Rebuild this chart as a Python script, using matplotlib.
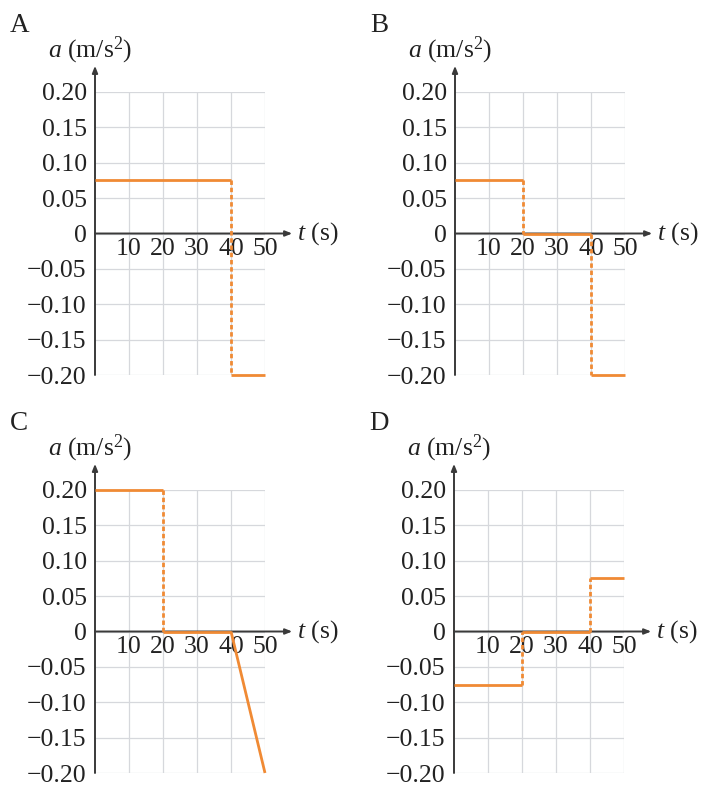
import matplotlib
matplotlib.use("Agg")
import matplotlib.pyplot as plt

plt.rcParams['font.family'] = ['Liberation Serif', 'DejaVu Serif']
plt.rcParams['mathtext.fontset'] = 'custom'
plt.rcParams['mathtext.rm'] = 'Liberation Serif'
plt.rcParams['mathtext.it'] = 'Liberation Serif:italic'

W, H = 708, 787

panel_names = ["A", "B", "C", "D"]

# each panel: list of pieces, each piece is ([t0, t1], [a0, a1])
A_t = [[0, 40], [40, 50]]
A_a = [[0.075, 0.075], [-0.2, -0.2]]
B_t = [[0, 20], [20, 40], [40, 50]]
B_a = [[0.075, 0.075], [0, 0], [-0.2, -0.2]]
C_t = [[0, 20], [20, 40], [40, 50]]
C_a = [[0.2, 0.2], [0, 0], [0, -0.2]]
D_t = [[0, 20], [20, 40], [40, 50]]
D_a = [[-0.075, -0.075], [0, 0], [0.075, 0.075]]

x_ticks = [10, 20, 30, 40, 50]
y_ticks = [0.20, 0.15, 0.10, 0.05, 0, -0.05, -0.10, -0.15, -0.20]
y_labels = ["0.20", "0.15", "0.10", "0.05", "0",
            "\u22120.05", "\u22120.10", "\u22120.15", "\u22120.20"]

panels = [(A_t, A_a), (B_t, B_a), (C_t, C_a), (D_t, D_a)]
# pixel boxes: left (t=0), top (a=0.2), bottom (a=-0.2)
boxes = [(95, 92, 375), (455, 92, 375), (95, 490, 773), (454, 490, 773)]
span_px = 170

orange = '#f08a34'
axis_col = '#3a3a3a'
grid_col = '#d6d8dc'
text_col = '#222222'
fs = 18.5

fig = plt.figure(figsize=(W / 100, H / 100), dpi=100)

for name, (ts, accs), (left, top, bot) in zip(panel_names, panels, boxes):
    ax = fig.add_axes([left / W, 1 - bot / H, span_px / W, (bot - top) / H])
    ax.set_xlim(0, 50)
    ax.set_ylim(-0.2, 0.2)
    ax.patch.set_alpha(0)
    for s in ['top', 'right']:
        ax.spines[s].set_visible(False)
    ax.spines['left'].set_color('none')
    ax.spines['bottom'].set_color('none')
    ax.spines['bottom'].set_position(('data', 0))

    # grid
    ax.vlines(x_ticks, -0.2, 0.2, color=grid_col, lw=0.9, zorder=1)
    ax.hlines(y_ticks, 0, 50, color=grid_col, lw=0.9, zorder=1)

    # axes with arrows
    arrow = dict(arrowstyle='-|>,head_length=0.4,head_width=0.16',
                 color=axis_col, lw=1.4, shrinkA=0, shrinkB=0)
    ax.annotate('', xy=(0, 0.237), xytext=(0, -0.2), annotation_clip=False,
                arrowprops=arrow, zorder=2)
    ax.annotate('', xy=(58, 0), xytext=(0, 0), annotation_clip=False,
                arrowprops=arrow, zorder=2)

    ax.set_xticks(x_ticks)
    ax.set_xticklabels([str(v) for v in x_ticks])
    ax.set_yticks(y_ticks)
    ax.set_yticklabels(y_labels)
    ax.tick_params(axis='x', length=0, pad=3, labelsize=fs, colors=text_col)
    ax.tick_params(axis='y', length=0, pad=6, labelsize=fs, colors=text_col)

    # data pieces
    prev_end = None
    for t, a in zip(ts, accs):
        if prev_end is not None and abs(prev_end[1] - a[0]) > 1e-9:
            ax.plot([t[0], t[0]], [prev_end[1], a[0]], color=orange, lw=2,
                    dashes=(1.6, 1.0), zorder=3, clip_on=False)
        ax.plot(t, a, color=orange, lw=2, zorder=4, clip_on=False,
                solid_capstyle='butt')
        prev_end = (t[1], a[1])

    fig.text((left - 85) / W, 1 - (top - 60) / H, name, fontsize=fs + 1,
             ha='left', va='baseline', color=text_col)
    fig.text((left - 47) / W, 1 - (top - 35) / H, '$a$ (m/s$^{2}$)', fontsize=fs,
             ha='left', va='baseline', color=text_col)
    ax.text(59.5, 0, '$t$ (s)', fontsize=fs, ha='left', va='center',
            color=text_col)

fig.savefig('out.png', dpi=100)
